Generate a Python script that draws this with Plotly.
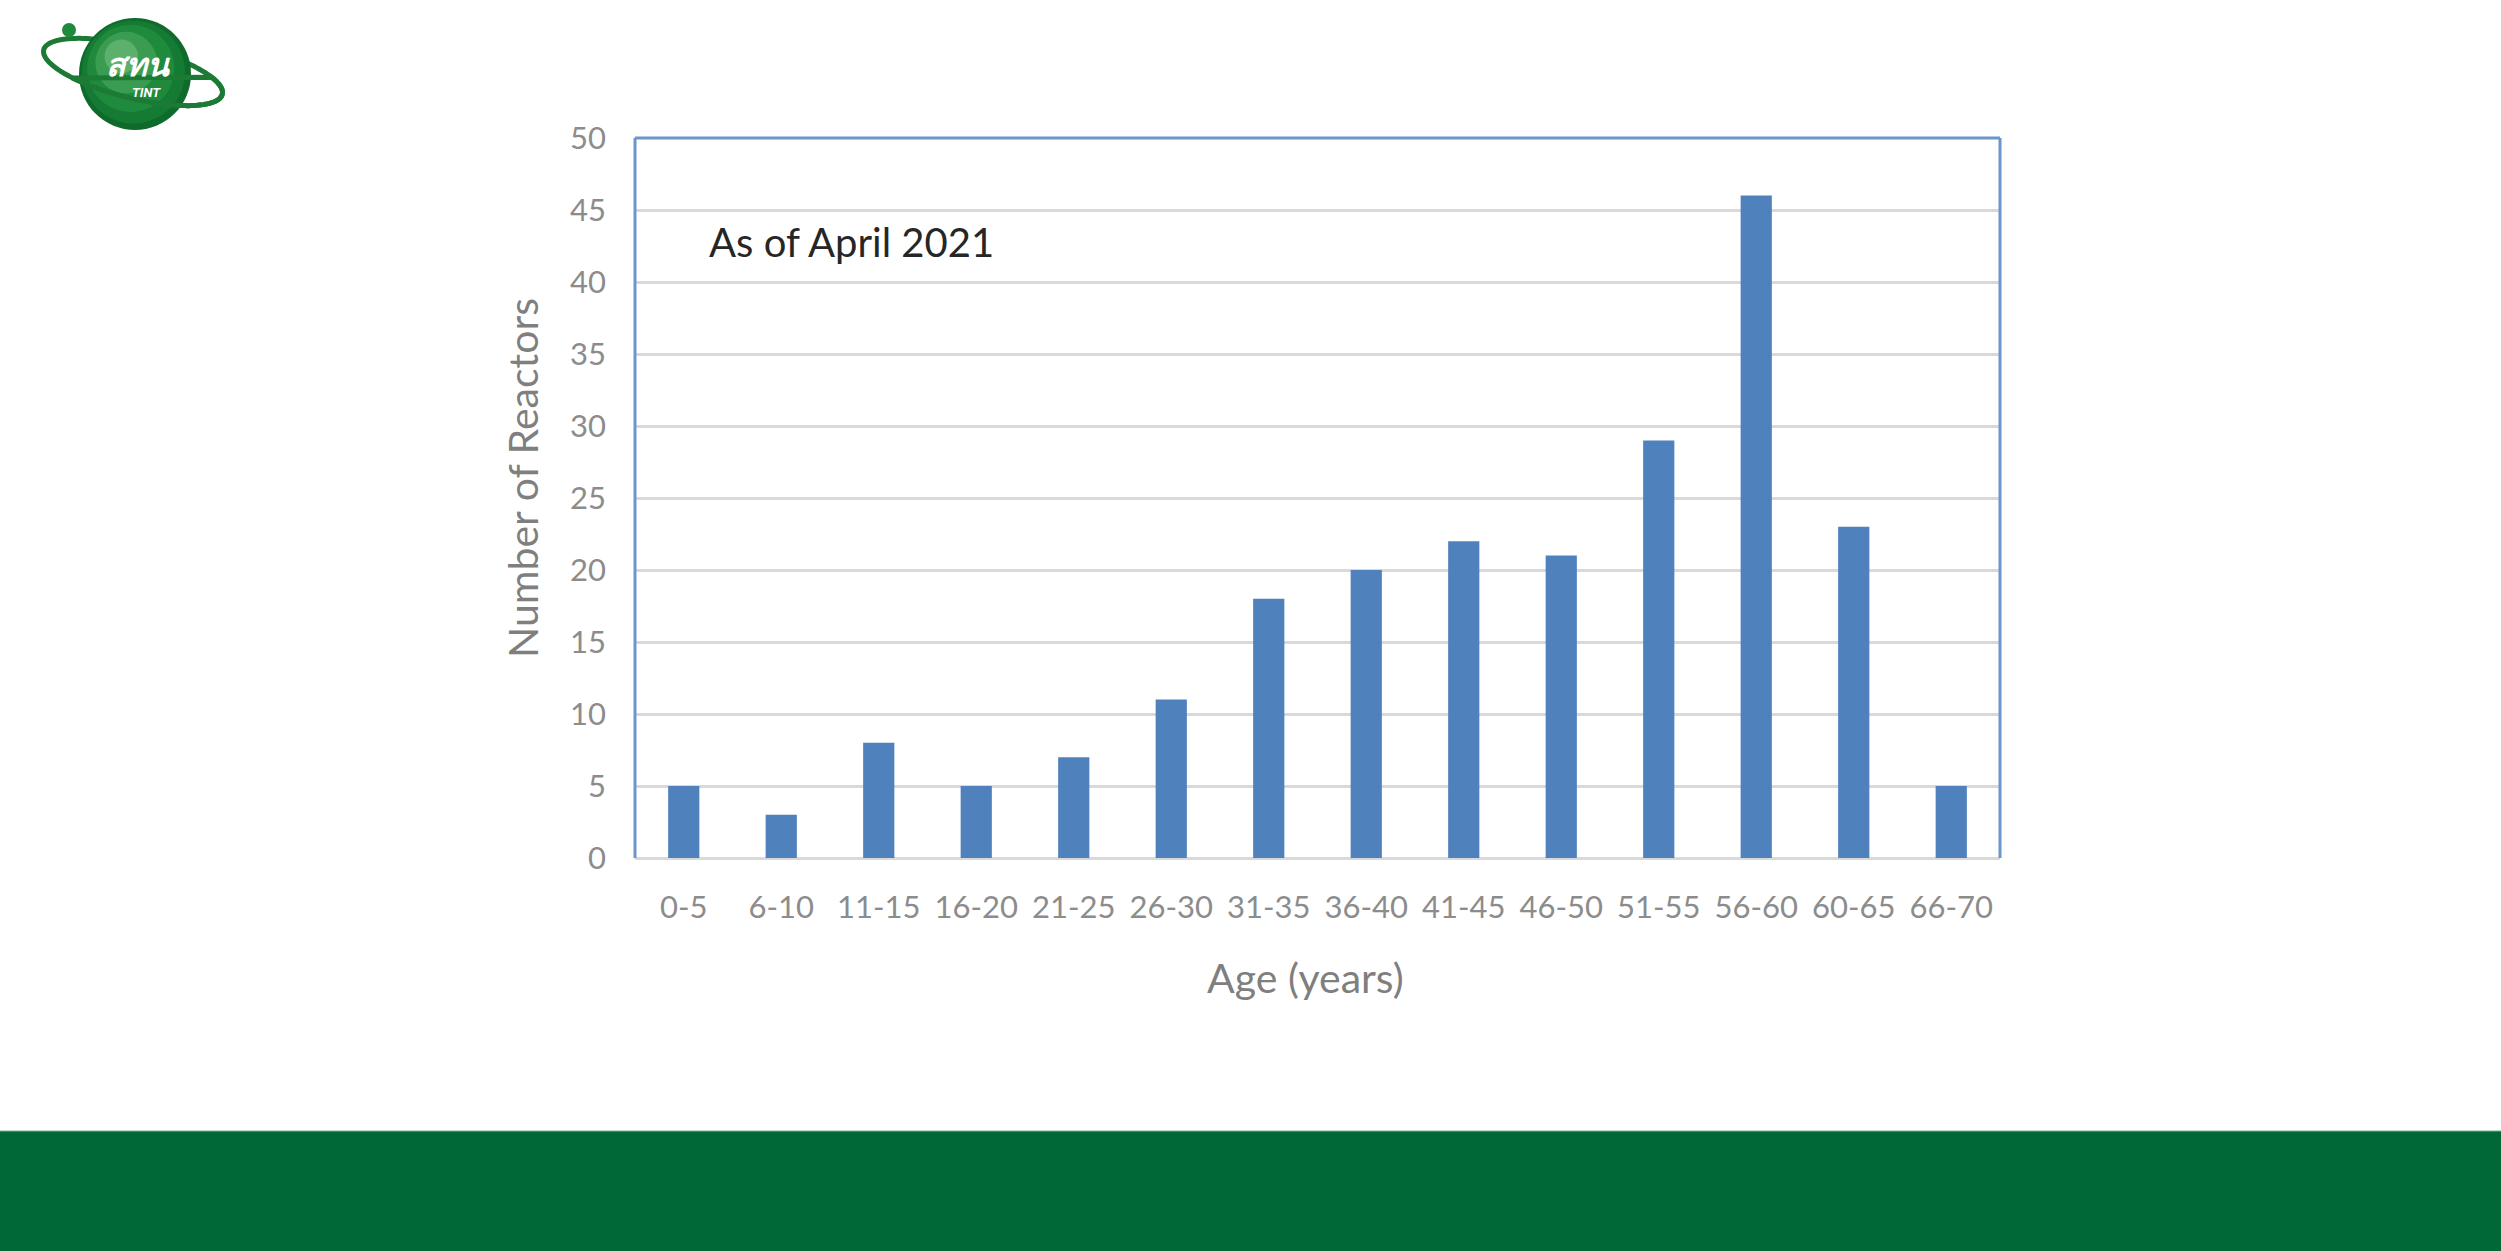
import numpy as np
import plotly.graph_objects as go

# ---- data ----
age_groups = ["0-5", "6-10", "11-15", "16-20", "21-25", "26-30", "31-35",
              "36-40", "41-45", "46-50", "51-55", "56-60", "60-65", "66-70"]
reactors = [5, 3, 8, 5, 7, 11, 18, 20, 22, 21, 29, 46, 23, 5]
y_ticks = [0, 5, 10, 15, 20, 25, 30, 35, 40, 45, 50]

W, H = 2501, 1251
L, R, T, B = 635, 2000, 138, 858  # plot area in pixels
PW, PH = R - L, B - T


def px(x):
    return (x - L) / PW


def py(y):
    return (B - y) / PH


BLUE = "#4f81bd"
GRID = "#d9d9d9"
TICK = "#8c8c8c"
FONT = "Lato, Open Sans, sans-serif"

fig = go.Figure()
fig.add_trace(go.Bar(x=age_groups, y=reactors, marker=dict(color=BLUE, line=dict(width=0)),
                     width=0.32, showlegend=False, hoverinfo="skip"))

shapes = []
# plot border (left, top, right) in blue
for x0, y0, x1, y1 in [(0, 0, 0, 1), (0, 1, 1, 1), (1, 0, 1, 1)]:
    shapes.append(dict(type="line", xref="paper", yref="paper", x0=x0, y0=y0, x1=x1, y1=y1,
                       line=dict(color="#6b96c9", width=3), layer="above"))

# green footer band
shapes.append(dict(type="rect", xref="paper", yref="paper", x0=px(-5), x1=px(W + 5), y0=py(1131), y1=py(H + 5),
                   fillcolor="#006837", line=dict(width=0), layer="below"))
shapes.append(dict(type="line", xref="paper", yref="paper", x0=px(-5), x1=px(W + 5), y0=py(1131), y1=py(1131),
                   line=dict(color="#7fae95", width=1), layer="below"))

# logo: orbit ellipse (back part), globe, front part
cx, cy, a, b, ang = 133, 72, 92, 26, np.deg2rad(14)
t = np.linspace(0, 2 * np.pi, 200)
ex = cx + a * np.cos(t) * np.cos(ang) - b * np.sin(t) * np.sin(ang)
ey = cy + a * np.cos(t) * np.sin(ang) + b * np.sin(t) * np.cos(ang)


def path_from(xs, ys):
    return "M " + " L ".join(f"{px(x):.5f},{py(y):.5f}" for x, y in zip(xs, ys))


shapes.append(dict(type="path", xref="paper", yref="paper", path=path_from(ex, ey),
                   line=dict(color="#1d7a34", width=5), layer="above"))
gx, gy, gr = 135, 74, 56
for r, col in [(gr, "#0f6b2c"), (gr * 0.92, "#157a33"), (gr * 0.78, "#1f8a3c"), (gr * 0.55, "#3a9c50"), (gr * 0.3, "#5cb06c")]:
    ox = (gr - r) * -0.35
    oy = (gr - r) * -0.45
    shapes.append(dict(type="circle", xref="paper", yref="paper",
                       x0=px(gx + ox - r), x1=px(gx + ox + r), y0=py(gy + oy + r), y1=py(gy + oy - r),
                       fillcolor=col, line=dict(width=0), layer="above"))
# front (lower) part of orbit
front = (ey > cy + 5)
shapes.append(dict(type="path", xref="paper", yref="paper",
                   path=path_from(ex[front], ey[front]),
                   line=dict(color="#1d7a34", width=5), layer="above"))
# small ball
shapes.append(dict(type="circle", xref="paper", yref="paper",
                   x0=px(62), x1=px(76), y0=py(37), y1=py(23),
                   fillcolor="#1f8a3c", line=dict(width=0), layer="above"))

annotations = [
    dict(text="As of April 2021", xref="paper", yref="paper", x=px(707), y=py(242),
         xanchor="left", yanchor="middle", showarrow=False,
         font=dict(family=FONT, size=40, color="#262626")),
    dict(text="Number of Reactors", xref="paper", yref="paper", x=px(522), y=py(478),
         xanchor="center", yanchor="middle", textangle=-90, showarrow=False,
         font=dict(family=FONT, size=41, color="#7f7f7f")),
    dict(text="Age (years)", xref="paper", yref="paper", x=px(1305), y=py(977),
         xanchor="center", yanchor="middle", showarrow=False,
         font=dict(family=FONT, size=41, color="#7f7f7f")),
    dict(text="<b><i>สทน</i></b>", xref="paper", yref="paper", x=px(138), y=py(64),
         xanchor="center", yanchor="middle", showarrow=False,
         font=dict(family="Noto Sans, DejaVu Sans, sans-serif", size=32, color="white")),
    dict(text="<b><i>TINT</i></b>", xref="paper", yref="paper", x=px(146), y=py(92),
         xanchor="center", yanchor="middle", showarrow=False,
         font=dict(family="Roboto, sans-serif", size=13, color="white")),
]

fig.update_layout(
    width=W, height=H,
    margin=dict(l=L, r=W - R, t=T, b=H - B, pad=0),
    paper_bgcolor="white", plot_bgcolor="white",
    bargap=0.68,
    shapes=shapes, annotations=annotations,
    xaxis=dict(type="category", showgrid=False, showline=False, zeroline=False,
               tickfont=dict(family=FONT, size=31, color=TICK),
               ticks="", ticklabelstandoff=28, fixedrange=True),
    yaxis=dict(range=[0, 50], tickvals=y_ticks, showgrid=True, gridcolor=GRID, gridwidth=3,
               zeroline=True, zerolinecolor=GRID, zerolinewidth=3, showline=False,
               tickfont=dict(family=FONT, size=31, color=TICK),
               ticks="", ticklabelstandoff=28, fixedrange=True),
    font=dict(family=FONT),
)

fig.write_html("out.html", config={"displayModeBar": False},
               post_script="document.body.style.margin='0';document.body.style.overflow='hidden';")
